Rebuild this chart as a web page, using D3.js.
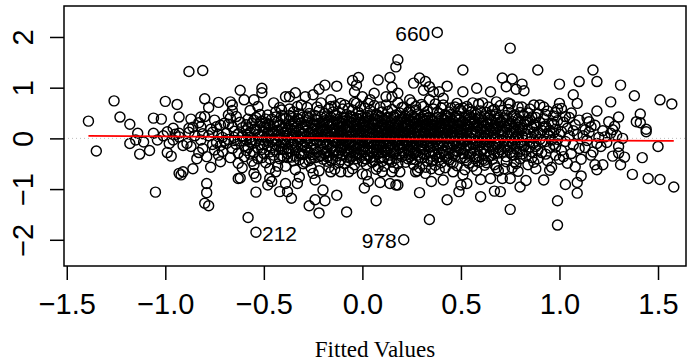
<!DOCTYPE html>
<html>
<head>
<meta charset="utf-8">
<script src="https://cdn.jsdelivr.net/npm/d3@7"></script>
<style>
  html, body { margin: 0; padding: 0; background: #fff; }
  svg { display: block; }
</style>
</head>
<body>
<svg id="chart" width="688" height="364"></svg>
<script>
(function () {
    'use strict';

    const xTicks = [-1.5, -1.0, -0.5, 0, 0.5, 1.0, 1.5];
    const yTicks = [-2, -1, 0, 1, 2];

    // [fitted, residual], grouped by fitted value
    const obs = [
        [-1.39,0.34],[-1.35,-0.25],[-1.26,0.74],[-1.23,0.42],[-1.18,0.28],[-1.18,-0.10],[-1.15,-0.03],[-1.14,0.10],[-1.13,-0.31],[-1.11,-0.07],
        [-1.08,-0.24],[-1.06,0.10],[-1.06,0.40],[-1.05,-1.06],[-1.04,-0.03],[-1.02,0.38],[-1.00,0.73],[-1.01,0.05],
        [-0.99,0.13],[-0.96,0.20],[-0.94,0.67],[-0.93,0.42],[-0.93,0.10],[-0.99,-0.28],[-0.97,-0.35],[-0.98,-0.10],[-0.96,-0.03],[-0.93,-0.69],
        [-0.91,-0.66],[-0.92,-0.72],[-0.93,0.03],[-0.95,0.08],[-0.91,-0.14],
        [-0.88,1.32],[-0.81,1.34],[-0.87,0.38],[-0.88,0.20],[-0.86,0.22],[-0.82,0.42],[-0.80,0.43],[-0.80,0.78],[-0.82,0.23],[-0.87,-0.16],
        [-0.83,-0.28],[-0.81,-0.20],[-0.86,-0.60],[-0.89,-0.10],[-0.82,-0.03],[-0.85,0.05],[-0.84,-0.40],[-0.88,0.12],[-0.81,0.09],[-0.83,0.31],
        [-0.78,0.61],[-0.73,0.71],[-0.74,0.23],[-0.72,0.26],[-0.70,0.30],[-0.79,-0.36],[-0.77,-0.57],[-0.79,-0.89],[-0.79,-1.07],[-0.80,-1.28],
        [-0.78,-1.33],[-0.72,-0.46],[-0.73,-0.33],[-0.75,-0.23],[-0.71,-0.26],[-0.76,0.12],[-0.78,0.05],[-0.74,-0.08],[-0.71,0.02],[-0.77,0.18],
        [-0.72,-0.14],[-0.75,0.36],[-0.70,-0.05],[-0.76,-0.12],[-0.73,0.08],
        [-0.67,0.72],[-0.66,0.66],[-0.62,0.95],[-0.67,0.40],[-0.66,0.23],[-0.63,-0.79],[-0.63,-0.49],[-0.63,-0.29],[-0.62,-0.78],
        [-0.69,0.10],[-0.68,-0.02],[-0.65,0.14],[-0.64,-0.12],[-0.61,0.05],[-0.66,-0.20],[-0.62,0.32],[-0.68,0.46],[-0.60,-0.36],[-0.65,0.02],
        [-0.61,0.21],[-0.67,-0.38],[-0.63,0.09],[-0.64,0.43],[-0.60,-0.15],[-0.69,-0.10],[-0.62,-0.05],[-0.66,0.55],[-0.61,-0.58],[-0.65,-0.04],[-0.68,0.28],
        [-0.60,0.76],[-0.55,0.76],[-0.53,0.63],[-0.51,0.99],[-0.51,0.90],[-0.58,-1.56],[-0.54,-1.85],[-0.55,-0.52],[-0.55,-0.69],[-0.54,-0.76],[-0.54,-1.06],
        [-0.59,0.15],[-0.57,0.02],[-0.56,-0.10],[-0.52,0.24],[-0.58,0.38],[-0.51,-0.22],[-0.53,0.08],[-0.57,-0.31],[-0.59,-0.02],[-0.52,0.47],
        [-0.56,0.30],[-0.50,0.12],[-0.58,-0.18],[-0.54,-0.05],[-0.51,0.34],[-0.57,0.55],[-0.53,-0.40],[-0.59,0.27],[-0.55,0.18],[-0.52,-0.12],
        [-0.56,-0.45],[-0.50,-0.30],[-0.58,0.06],[-0.54,0.41],[-0.51,0.03],[-0.57,-0.07],
        [-0.48,-0.92],[-0.47,-0.79],[-0.46,-0.85],[-0.42,-1.05],[-0.41,0.56],
        [-0.49,0.22],[-0.48,-0.15],[-0.47,0.05],[-0.46,0.38],[-0.45,-0.33],[-0.44,0.14],[-0.43,-0.02],[-0.42,0.61],[-0.49,-0.48],[-0.41,-0.22],
        [-0.45,0.27],[-0.47,-0.60],[-0.44,-0.12],[-0.48,0.46],[-0.43,0.33],[-0.40,-0.07],[-0.46,0.09],[-0.42,-0.40],[-0.49,0.01],[-0.44,0.52],
        [-0.41,0.19],[-0.47,-0.27],[-0.45,0.70],[-0.43,-0.55],[-0.48,0.11],[-0.40,0.40],[-0.46,-0.18],[-0.42,0.03],[-0.44,-0.66],[-0.49,0.31],
        [-0.41,-0.09],[-0.45,-0.02],[-0.47,0.25],[-0.43,0.16],[-0.40,-0.36],[-0.48,-0.04],
        [-0.39,-0.89],[-0.38,-1.05],[-0.36,-1.18],[-0.33,-0.89],[-0.32,-0.76],[-0.39,0.82],[-0.37,0.82],[-0.34,0.90],[-0.33,0.63],
        [-0.39,0.12],[-0.38,-0.20],[-0.37,0.35],[-0.36,0.02],[-0.35,-0.44],[-0.34,0.21],[-0.33,-0.07],[-0.32,0.48],[-0.31,-0.30],[-0.30,0.09],
        [-0.39,-0.55],[-0.37,0.58],[-0.36,-0.12],[-0.35,0.29],[-0.34,-0.35],[-0.32,0.16],[-0.31,0.66],[-0.38,0.04],[-0.36,0.43],[-0.33,-0.18],
        [-0.30,-0.50],[-0.39,0.25],[-0.37,-0.03],[-0.35,0.07],[-0.34,-0.62],[-0.32,-0.02],[-0.31,0.31],[-0.38,-0.38],[-0.36,0.18],[-0.33,0.39],
        [-0.30,-0.14],[-0.37,-0.26],[-0.35,0.52],[-0.32,-0.42],[-0.34,0.11],[-0.31,0.00],[-0.39,-0.11],
        [-0.29,0.82],[-0.25,0.86],[-0.22,0.97],[-0.27,-1.33],[-0.24,-1.21],[-0.24,-0.82],[-0.22,-1.47],[-0.20,-1.02],
        [-0.29,0.14],[-0.28,-0.22],[-0.27,0.40],[-0.26,-0.05],[-0.25,0.27],[-0.24,-0.38],[-0.23,0.08],[-0.22,0.55],[-0.21,-0.15],[-0.20,0.33],
        [-0.29,-0.47],[-0.28,0.61],[-0.27,0.01],[-0.26,-0.58],[-0.25,0.18],[-0.24,0.45],[-0.23,-0.27],[-0.22,-0.03],[-0.21,0.70],[-0.20,-0.41],
        [-0.29,0.26],[-0.28,-0.10],[-0.27,0.49],[-0.26,0.12],[-0.25,-0.32],[-0.24,0.05],[-0.23,0.36],[-0.22,-0.64],[-0.21,0.21],[-0.20,0.02],
        [-0.28,0.35],[-0.26,-0.19],[-0.25,-0.69],[-0.23,0.62],[-0.21,-0.34],[-0.29,-0.06],[-0.27,-0.44],[-0.24,0.25],[-0.22,0.13],[-0.20,-0.22],
        [-0.19,1.05],[-0.19,-1.23],[-0.13,1.03],[-0.13,-1.12],[-0.16,0.76],[-0.16,0.63],[-0.16,-0.66],[-0.11,-0.66],
        [-0.19,0.18],[-0.18,-0.12],[-0.18,0.44],[-0.17,0.02],[-0.17,-0.35],[-0.16,0.27],[-0.15,-0.05],[-0.15,0.52],[-0.14,-0.24],[-0.14,0.10],
        [-0.13,0.38],[-0.12,-0.48],[-0.12,0.06],[-0.11,0.30],[-0.11,-0.17],[-0.10,0.58],[-0.10,-0.02],[-0.19,-0.30],[-0.18,0.31],[-0.17,-0.57],
        [-0.16,0.11],[-0.15,-0.40],[-0.14,0.46],[-0.13,-0.09],[-0.12,0.22],[-0.11,0.69],[-0.10,-0.33],[-0.19,0.03],[-0.18,-0.45],[-0.17,0.59],
        [-0.16,-0.20],[-0.15,0.15],[-0.14,-0.61],[-0.13,0.26],[-0.12,-0.28],[-0.11,0.01],[-0.10,0.41],[-0.18,0.08],[-0.17,0.36],[-0.15,-0.15],
        [-0.14,0.64],[-0.12,-0.03],[-0.11,-0.42],[-0.19,0.49],[-0.13,0.14],[-0.10,-0.11],
        [-0.08,-1.45],[-0.07,-0.66],[-0.05,1.14],[-0.03,1.05],[-0.02,1.20],[-0.04,0.92],[-0.03,0.69],[0.00,0.82],
        [-0.09,0.20],[-0.09,-0.25],[-0.08,0.47],[-0.08,-0.06],[-0.07,0.13],[-0.07,0.34],[-0.06,-0.39],[-0.06,0.04],[-0.05,-0.18],[-0.05,0.56],
        [-0.04,0.25],[-0.04,-0.52],[-0.03,-0.01],[-0.03,0.40],[-0.02,-0.31],[-0.02,0.09],[-0.01,0.63],[-0.01,-0.14],[0.00,0.29],[0.00,-0.45],
        [-0.09,0.66],[-0.08,-0.37],[-0.07,-0.13],[-0.06,0.44],[-0.05,0.08],[-0.04,-0.27],[-0.03,0.18],[-0.02,0.51],[-0.01,-0.04],[0.00,-0.21],
        [-0.09,-0.50],[-0.08,0.24],[-0.07,0.59],[-0.06,-0.08],[-0.05,-0.60],[-0.04,0.36],[-0.03,-0.40],[-0.02,0.00],[-0.01,0.32],[0.00,0.11],
        [-0.09,0.02],[-0.07,-0.29],[-0.06,0.21],[-0.04,0.71],[-0.03,-0.19],[-0.01,0.45],[0.00,-0.70],[-0.08,0.15],[-0.05,0.30],[-0.02,-0.09],
        [0.01,-0.98],[0.03,-0.85],[0.02,-0.72],[0.07,-1.23],[0.09,-0.87],[0.10,-0.66],[0.08,1.15],[0.06,0.89],[0.04,0.76],
        [0.01,0.23],[0.01,-0.16],[0.02,0.41],[0.02,-0.03],[0.03,0.12],[0.03,-0.34],[0.04,0.55],[0.04,-0.08],[0.05,0.30],[0.05,-0.47],
        [0.06,0.06],[0.06,-0.22],[0.07,0.48],[0.07,0.17],[0.08,-0.11],[0.08,0.35],[0.09,-0.38],[0.09,0.02],[0.10,0.27],[0.10,-0.17],
        [0.01,0.60],[0.02,-0.52],[0.03,0.33],[0.04,-0.25],[0.05,0.09],[0.06,0.65],[0.07,-0.04],[0.08,-0.56],[0.09,0.42],[0.10,0.07],
        [0.01,-0.40],[0.02,0.15],[0.03,0.69],[0.04,0.01],[0.05,-0.29],[0.06,0.38],[0.07,-0.61],[0.08,0.21],[0.09,-0.14],[0.10,0.52],
        [0.02,0.26],[0.03,-0.10],[0.05,0.44],[0.06,-0.36],[0.08,0.04],[0.09,0.62],[0.01,0.08],[0.04,0.19],[0.07,-0.27],[0.10,-0.45],
        [0.14,-0.89],[0.17,-0.92],[0.18,-0.92],[0.15,-0.66],[0.19,-0.66],[0.14,1.20],[0.15,1.01],[0.15,0.82],[0.18,1.55],[0.17,1.41],[0.18,0.89],[0.12,0.82],
        [0.11,0.18],[0.11,-0.24],[0.12,0.40],[0.12,-0.02],[0.13,0.09],[0.13,-0.41],[0.14,0.31],[0.14,-0.12],[0.15,0.57],[0.15,0.03],
        [0.16,-0.30],[0.16,0.22],[0.17,0.46],[0.17,-0.07],[0.18,-0.50],[0.18,0.13],[0.19,0.36],[0.19,-0.19],[0.20,0.02],[0.20,0.61],
        [0.11,-0.55],[0.12,0.66],[0.13,0.25],[0.14,-0.33],[0.15,0.14],[0.16,-0.58],[0.17,0.29],[0.18,-0.03],[0.19,0.50],[0.20,-0.36],
        [0.11,0.05],[0.12,-0.15],[0.13,0.53],[0.14,0.08],[0.15,-0.46],[0.16,0.41],[0.17,-0.25],[0.18,0.70],[0.19,0.07],[0.20,0.24],
        [0.11,0.37],[0.13,-0.20],[0.16,0.00],[0.18,0.34],[0.20,-0.11],[0.12,0.20],[0.17,0.10],
        [0.21,-2.00],[0.27,-0.66],[0.29,-1.07],[0.26,1.09],[0.29,1.19],[0.24,0.76],[0.27,0.63],
        [0.21,0.15],[0.21,-0.28],[0.22,0.43],[0.22,-0.06],[0.23,0.26],[0.23,-0.40],[0.24,0.03],[0.24,0.55],[0.25,-0.16],[0.25,0.34],
        [0.26,-0.52],[0.26,0.11],[0.27,0.21],[0.27,-0.09],[0.28,0.48],[0.28,-0.33],[0.29,0.06],[0.29,0.38],[0.30,-0.21],[0.30,0.67],
        [0.21,0.62],[0.22,-0.47],[0.23,0.08],[0.24,-0.23],[0.25,0.70],[0.26,0.29],[0.27,-0.42],[0.28,0.14],[0.29,-0.58],[0.30,0.23],
        [0.21,-0.03],[0.22,0.19],[0.23,0.51],[0.24,-0.36],[0.25,0.00],[0.26,-0.12],[0.27,0.40],[0.28,-0.64],[0.29,0.27],[0.30,-0.05],
        [0.22,0.32],[0.23,-0.15],[0.25,0.45],[0.26,-0.30],[0.28,0.02],[0.29,-0.19],[0.30,0.41],[0.21,0.29],[0.24,0.18],[0.27,0.56],[0.30,-0.38],
        [0.32,-0.69],[0.35,-0.85],[0.34,-1.60],[0.38,2.09],[0.32,1.12],[0.31,0.95],[0.34,1.02],[0.36,0.92],[0.39,0.92],[0.34,0.76],
        [0.31,0.12],[0.31,-0.31],[0.32,0.46],[0.32,-0.04],[0.33,0.25],[0.33,-0.45],[0.34,0.07],[0.34,-0.18],[0.35,0.37],[0.35,0.01],
        [0.36,-0.27],[0.36,0.58],[0.37,0.16],[0.37,-0.53],[0.38,0.30],[0.38,-0.10],[0.39,0.49],[0.39,-0.37],[0.40,0.05],[0.40,0.22],
        [0.31,0.63],[0.32,0.19],[0.33,-0.14],[0.34,0.41],[0.35,-0.60],[0.36,0.09],[0.37,0.68],[0.38,-0.22],[0.39,0.13],[0.40,-0.48],
        [0.31,-0.08],[0.32,-0.57],[0.33,0.53],[0.34,0.28],[0.35,-0.35],[0.36,-0.02],[0.37,0.39],[0.38,0.03],[0.39,-0.62],[0.40,0.60],
        [0.31,0.34],[0.33,0.00],[0.35,0.20],[0.36,-0.43],[0.38,0.52],[0.39,-0.15],[0.40,0.31],[0.32,0.27],[0.37,-0.06],
        [0.41,-0.82],[0.43,-1.21],[0.49,-1.05],[0.50,-0.92],[0.43,1.03],[0.41,0.79],
        [0.41,0.20],[0.41,-0.26],[0.42,0.47],[0.42,0.00],[0.43,-0.40],[0.43,0.14],[0.44,0.33],[0.44,-0.11],[0.45,0.60],[0.45,0.06],
        [0.46,-0.33],[0.46,0.25],[0.47,-0.05],[0.47,0.42],[0.48,-0.54],[0.48,0.17],[0.49,0.36],[0.49,-0.20],[0.50,0.09],[0.50,0.55],
        [0.41,0.66],[0.42,-0.58],[0.43,0.29],[0.44,-0.30],[0.45,0.38],[0.46,-0.66],[0.47,0.03],[0.48,0.69],[0.49,0.23],[0.50,-0.39],
        [0.41,0.04],[0.42,0.35],[0.43,-0.17],[0.44,0.52],[0.45,-0.47],[0.46,0.12],[0.47,-0.24],[0.48,0.44],[0.49,-0.08],[0.50,0.31],
        [0.42,0.18],[0.44,-0.01],[0.45,0.21],[0.47,0.62],[0.48,-0.14],[0.49,0.58],[0.50,-0.23],[0.43,0.40],[0.46,-0.49],
        [0.51,-0.72],[0.53,-0.89],[0.60,-1.15],[0.60,-0.81],[0.51,1.35],[0.51,0.92],[0.58,0.99],
        [0.51,0.16],[0.51,-0.30],[0.52,0.41],[0.52,-0.06],[0.53,0.27],[0.53,-0.44],[0.54,0.04],[0.54,0.58],[0.55,-0.19],[0.55,0.33],
        [0.56,-0.55],[0.56,0.12],[0.57,0.46],[0.57,-0.10],[0.58,0.22],[0.58,-0.36],[0.59,0.68],[0.59,0.02],[0.60,0.30],[0.60,-0.25],
        [0.51,0.60],[0.52,-0.62],[0.53,0.10],[0.54,-0.33],[0.55,0.52],[0.56,-0.02],[0.57,0.24],[0.58,-0.63],[0.59,0.38],[0.60,0.07],
        [0.52,0.20],[0.53,-0.16],[0.54,0.37],[0.55,0.00],[0.56,0.70],[0.57,-0.40],[0.58,0.48],[0.59,-0.13],[0.60,0.54],[0.51,-0.04],
        [0.54,-0.49],[0.56,0.29],[0.59,-0.47],[0.53,0.63],
        [0.65,-0.79],[0.67,-1.04],[0.70,-1.05],[0.65,0.92],
        [0.61,0.18],[0.61,-0.22],[0.62,0.44],[0.62,-0.01],[0.63,0.29],[0.63,-0.48],[0.64,0.09],[0.64,-0.15],[0.65,0.37],[0.65,-0.34],
        [0.66,0.55],[0.66,0.03],[0.67,-0.09],[0.67,0.25],[0.68,-0.58],[0.68,0.48],[0.69,0.13],[0.69,-0.29],[0.70,0.65],[0.70,-0.03],
        [0.61,0.70],[0.62,-0.53],[0.63,0.06],[0.64,0.40],[0.65,-0.06],[0.66,-0.41],[0.67,0.57],[0.68,0.19],[0.69,-0.64],[0.70,0.33],
        [0.61,-0.41],[0.62,0.26],[0.63,-0.26],[0.64,0.62],[0.66,0.20],[0.67,-0.52],[0.68,-0.12],[0.69,0.41],[0.70,0.08],[0.62,0.12],
        [0.65,0.15],[0.68,0.72],[0.63,0.51],[0.69,-0.18],[0.66,-0.23],
        [0.71,-0.79],[0.75,-0.79],[0.75,-1.40],[0.75,1.78],[0.71,1.19],[0.76,1.17],[0.73,1.02],[0.78,0.97],
        [0.71,0.14],[0.71,-0.27],[0.72,0.40],[0.72,-0.05],[0.73,0.22],[0.73,-0.46],[0.74,0.05],[0.74,0.57],[0.75,-0.17],[0.75,0.30],
        [0.76,-0.58],[0.76,0.10],[0.77,0.46],[0.77,-0.33],[0.78,0.02],[0.78,0.28],[0.79,-0.11],[0.79,0.62],[0.80,0.17],[0.80,-0.40],
        [0.71,0.55],[0.72,-0.60],[0.73,0.35],[0.74,-0.23],[0.76,0.43],[0.77,-0.02],[0.78,-0.50],[0.79,0.37],[0.80,-0.08],[0.72,0.24],
        [0.74,0.70],[0.76,-0.32],[0.78,0.13],[0.79,-0.65],[0.80,0.51],[0.73,-0.14],[0.77,0.20],[0.75,0.68],
        [0.80,-0.96],[0.83,-0.83],[0.81,1.07],[0.82,0.94],[0.87,0.66],[0.89,1.35],
        [0.81,0.20],[0.81,-0.31],[0.82,0.45],[0.82,-0.04],[0.83,0.09],[0.83,0.33],[0.84,-0.52],[0.84,0.18],[0.85,-0.17],[0.85,0.58],
        [0.86,0.03],[0.86,-0.38],[0.87,0.27],[0.87,-0.09],[0.88,0.41],[0.88,-0.60],[0.89,0.12],[0.89,-0.24],[0.90,0.66],[0.90,-0.02],
        [0.81,0.62],[0.83,-0.35],[0.84,0.50],[0.86,0.22],[0.87,-0.47],[0.88,0.06],[0.90,0.32],[0.82,-0.15],[0.85,0.36],[0.89,0.48],
        [0.92,-0.82],[0.99,-1.23],[0.99,-1.71],[1.00,1.07],[1.00,0.69],[0.98,0.51],
        [0.91,0.16],[0.91,-0.28],[0.92,0.39],[0.93,-0.06],[0.93,0.24],[0.94,-0.44],[0.94,0.54],[0.95,0.04],[0.95,-0.19],[0.96,0.30],
        [0.96,-0.57],[0.97,0.11],[0.97,0.44],[0.98,-0.33],[0.98,0.18],[0.99,-0.02],[0.99,0.35],[1.00,-0.41],[0.92,0.62],[0.94,0.09],
        [0.95,-0.63],[0.97,-0.12],[0.99,0.58],[0.93,0.47],
        [1.03,-0.91],[1.09,-0.87],[1.09,-1.08],[1.01,0.59],[1.03,0.43],[1.07,0.86],[1.09,0.69],[1.10,1.12],
        [1.01,0.13],[1.01,-0.24],[1.02,0.32],[1.03,-0.06],[1.04,0.20],[1.04,-0.49],[1.05,0.05],[1.05,0.41],[1.06,-0.30],[1.07,0.15],
        [1.07,-0.13],[1.08,0.27],[1.08,-0.56],[1.09,0.08],[1.10,-0.20],[1.10,0.36],[1.02,-0.36],[1.06,0.50],
        [1.11,-0.74],[1.11,-0.41],[1.16,-0.33],[1.18,-0.52],[1.19,-0.62],[1.19,-0.10],[1.17,1.35],[1.19,1.12],[1.19,0.54],[1.15,0.33],
        [1.16,0.23],[1.13,0.17],[1.12,0.05],[1.13,-0.18],[1.14,0.40],[1.14,-0.04],[1.15,0.12],[1.17,-0.27],[1.18,0.26],[1.20,0.02],
        [1.22,-0.52],[1.21,-0.16],[1.23,0.03],[1.26,0.10],[1.26,0.72],[1.28,0.24],[1.27,0.17],[1.22,0.15],[1.24,-0.08],[1.25,0.33],
        [1.27,-0.35],[1.29,0.06],
        [1.32,0.00],[1.30,-0.16],[1.30,-0.29],[1.31,-0.52],[1.33,-0.37],[1.37,-0.71],[1.38,0.84],[1.31,1.05],[1.30,0.42],[1.39,0.33],
        [1.42,-0.38],[1.45,-0.79],[1.50,-0.16],[1.44,0.13],[1.41,0.48],[1.41,0.31],[1.44,0.18],
        [1.51,-0.81],[1.58,-0.96],[1.51,0.76],[1.57,0.68]
    ];

    // the solid black middle of the cloud: extra points close to zero
    const obsDense = [
        [-0.59,-0.24],[-0.58,0.21],[-0.57,0.12],[-0.56,-0.03],[-0.55,0.36],[-0.55,-0.28],[-0.54,0.16],[-0.53,-0.19],[-0.52,0.04],[-0.51,-0.38],[-0.50,0.23],[-0.52,0.31],
        [-0.50,-0.12],[-0.49,0.38],[-0.48,0.27],[-0.47,-0.40],[-0.46,-0.06],[-0.45,0.13],[-0.44,0.42],[-0.44,-0.23],[-0.43,0.06],[-0.42,-0.15],
        [-0.42,0.26],[-0.41,0.45],[-0.41,-0.34],[-0.40,0.10],[-0.47,0.17],
        [-0.40,-0.21],[-0.39,0.39],[-0.39,-0.03],[-0.38,0.19],[-0.38,-0.30],[-0.37,0.10],[-0.37,0.45],[-0.36,-0.37],[-0.36,0.28],[-0.35,-0.09],
        [-0.35,0.14],[-0.34,0.34],[-0.34,-0.23],[-0.33,0.03],[-0.33,0.24],[-0.32,-0.29],[-0.32,0.37],[-0.31,0.08],[-0.31,-0.16],[-0.30,0.22],
        [-0.30,0.42],[-0.30,-0.32],[-0.29,0.04],[-0.29,-0.18],[-0.28,0.22],[-0.28,0.44],[-0.27,-0.28],[-0.27,0.11],[-0.26,0.31],[-0.26,-0.40],
        [-0.25,0.06],[-0.25,-0.12],[-0.24,0.38],[-0.24,-0.21],[-0.23,-0.06],[-0.23,0.19],[-0.22,0.30],[-0.22,-0.36],[-0.21,0.05],[-0.21,0.42],
        [-0.20,-0.09],[-0.20,0.16],
        [-0.20,0.27],[-0.19,-0.07],[-0.19,0.35],[-0.18,-0.25],[-0.18,0.15],[-0.17,0.24],[-0.17,-0.14],[-0.16,0.42],[-0.16,-0.43],[-0.16,0.04],
        [-0.15,0.32],[-0.15,-0.27],[-0.14,0.19],[-0.14,-0.06],[-0.13,-0.35],[-0.13,0.45],[-0.12,0.10],[-0.12,0.33],[-0.11,-0.23],[-0.11,0.14],
        [-0.10,-0.18],[-0.10,0.24],[-0.14,0.02],[-0.18,-0.36],
        [-0.10,0.06],[-0.10,0.34],[-0.09,-0.12],[-0.09,0.40],[-0.08,0.07],[-0.08,-0.24],[-0.07,0.23],[-0.07,-0.44],[-0.06,0.12],[-0.06,0.33],
        [-0.06,-0.26],[-0.05,-0.04],[-0.05,0.42],[-0.04,0.14],[-0.04,-0.14],[-0.03,0.29],[-0.03,-0.30],[-0.02,0.20],[-0.02,-0.20],[-0.02,0.38],
        [-0.01,0.06],[-0.01,-0.33],[0.00,0.19],[0.00,-0.06],[-0.08,0.36],[-0.05,-0.35],
        [0.00,0.40],[0.01,-0.06],[0.01,0.33],[0.01,-0.27],[0.02,0.08],[0.02,-0.41],[0.03,0.22],[0.03,0.45],[0.03,-0.19],[0.04,0.10],
        [0.04,0.34],[0.04,-0.38],[0.05,-0.08],[0.05,0.19],[0.06,0.28],[0.06,-0.12],[0.06,-0.44],[0.07,0.05],[0.07,0.37],[0.07,-0.18],
        [0.08,0.13],[0.08,-0.30],[0.08,0.45],[0.09,-0.05],[0.09,0.24],[0.10,-0.28],[0.10,0.15],[0.10,0.40],
        [0.11,-0.10],[0.11,0.27],[0.11,-0.38],[0.12,0.09],[0.12,0.31],[0.12,-0.26],[0.13,-0.05],[0.13,0.17],[0.13,0.42],[0.14,-0.19],
        [0.14,0.21],[0.14,-0.43],[0.15,0.07],[0.15,0.35],[0.15,-0.12],[0.16,0.13],[0.16,-0.22],[0.16,0.44],[0.17,0.02],[0.17,-0.39],
        [0.17,0.20],[0.18,-0.12],[0.18,0.25],[0.19,-0.01],[0.19,0.16],[0.19,-0.30],[0.20,0.11],[0.20,0.38],
        [0.20,-0.24],[0.21,0.07],[0.21,0.40],[0.21,-0.13],[0.22,-0.33],[0.22,0.11],[0.22,0.27],[0.23,-0.04],[0.23,0.38],[0.23,-0.25],
        [0.24,0.10],[0.24,-0.11],[0.24,0.33],[0.25,-0.41],[0.25,0.23],[0.25,-0.06],[0.26,0.06],[0.26,0.42],[0.26,-0.20],[0.27,0.29],
        [0.27,-0.28],[0.27,0.03],[0.28,0.22],[0.28,-0.11],[0.28,0.35],[0.29,-0.37],[0.29,0.15],[0.30,0.10],
        [0.30,-0.13],[0.30,0.33],[0.31,0.04],[0.31,-0.22],[0.31,0.44],[0.32,0.10],[0.32,-0.31],[0.32,0.36],[0.33,-0.07],[0.33,0.16],
        [0.33,0.40],[0.34,-0.27],[0.34,0.14],[0.34,-0.05],[0.35,0.27],[0.35,-0.45],[0.35,0.09],[0.36,0.33],[0.36,-0.15],[0.36,0.17],
        [0.37,-0.31],[0.37,0.05],[0.37,0.26],[0.38,-0.02],[0.38,0.41],[0.38,-0.38],[0.39,0.21],[0.39,0.04],
        [0.40,-0.09],[0.40,0.40],[0.40,-0.30],[0.41,0.12],[0.41,0.30],[0.41,-0.14],[0.42,-0.36],[0.42,0.09],[0.42,0.27],[0.43,-0.07],
        [0.43,0.44],[0.43,0.05],[0.44,0.16],[0.44,-0.42],[0.44,0.25],[0.45,-0.19],[0.45,0.12],[0.45,0.47],[0.46,-0.11],[0.46,0.34],
        [0.46,0.04],[0.47,-0.35],[0.47,0.18],[0.48,0.07],[0.48,-0.26],[0.49,0.13],[0.49,0.43],[0.50,-0.01],
        [0.50,0.19],[0.50,-0.13],[0.51,0.33],[0.51,0.06],[0.52,-0.22],[0.52,0.29],[0.52,-0.38],[0.53,0.17],[0.53,-0.03],[0.54,0.45],
        [0.54,-0.14],[0.54,0.23],[0.55,-0.30],[0.55,0.12],[0.56,0.38],[0.56,-0.12],[0.57,0.07],[0.57,-0.24],[0.57,0.33],[0.58,-0.04],
        [0.58,0.13],[0.59,0.26],[0.59,-0.34],[0.60,-0.08],[0.60,0.17],[0.55,0.42],
        [0.60,0.42],[0.61,-0.06],[0.61,0.31],[0.62,-0.31],[0.62,0.06],[0.63,0.18],[0.63,-0.13],[0.64,0.28],[0.64,-0.36],[0.65,0.02],
        [0.65,0.46],[0.66,-0.15],[0.66,0.33],[0.67,0.10],[0.67,-0.30],[0.68,0.36],[0.68,0.01],[0.69,-0.07],[0.69,0.24],[0.70,-0.22],
        [0.70,0.17],[0.64,-0.02],[0.67,0.44],[0.62,-0.43],
        [0.71,0.03],[0.71,0.32],[0.72,-0.18],[0.72,0.12],[0.73,-0.36],[0.73,0.45],[0.74,-0.06],[0.74,0.25],[0.75,0.06],[0.75,-0.28],
        [0.76,0.33],[0.76,-0.10],[0.77,0.13],[0.77,-0.46],[0.78,0.40],[0.78,-0.21],[0.79,0.08],[0.79,0.22],[0.80,-0.26],[0.80,0.32],
        [0.81,0.05],[0.81,-0.14],[0.82,0.28],[0.83,-0.23],[0.84,0.03],[0.84,0.35],[0.85,-0.07],[0.86,0.42],[0.86,-0.27],[0.87,0.12],
        [0.88,-0.16],[0.88,0.26],[0.89,-0.40],[0.90,0.10],
        [0.91,-0.07],[0.92,0.23],[0.93,-0.31],[0.95,0.16],[0.96,-0.03],[0.97,0.28],[0.98,-0.17],[1.00,0.08]
    ];

    // red smoother through the residuals
    const smoothFitted = [-1.39, -1.0, -0.6, -0.2, 0.2, 0.6, 1.0, 1.58];
    const smoothResid = [0.05, 0.04, 0.025, 0.005, -0.015, -0.03, -0.04, -0.05];

    // labelled observations
    const labelIds = ['660', '212', '978'];
    const labelFitted = [0.38, -0.54, 0.21];
    const labelResid = [2.09, -1.85, -2.00];
    const labelSide = ['left', 'right', 'left'];

    const box = { left: 64, top: 6, right: 686, bottom: 266 };

    const x = d3.scaleLinear().domain([-1.514, 1.642]).range([box.left, box.right]);
    const y = d3.scaleLinear().domain([-2.517, 2.611]).range([box.bottom, box.top]);

    const minus = (v, digits) => (v < 0 ? '\u2212' : '') + Math.abs(v).toFixed(digits);

    const svg = d3.select('#chart');
    const sans = '"Liberation Sans", Arial, sans-serif';

    // points
    svg.append('g')
        .selectAll('circle')
        .data(obs.concat(obsDense))
        .join('circle')
        .attr('cx', (d) => x(d[0]))
        .attr('cy', (d) => y(d[1]))
        .attr('r', 5)
        .attr('fill', 'none')
        .attr('stroke', '#000')
        .attr('stroke-width', 1.45);

    // dotted zero line
    svg.append('line')
        .attr('x1', box.left).attr('x2', box.right)
        .attr('y1', y(0)).attr('y2', y(0))
        .attr('stroke', '#bebebe')
        .attr('stroke-width', 1)
        .attr('stroke-dasharray', '1,3');

    // smoother
    const line = d3.line()
        .x((d, i) => x(smoothFitted[i]))
        .y((d) => y(d))
        .curve(d3.curveMonotoneX);
    svg.append('path')
        .datum(smoothResid)
        .attr('d', line)
        .attr('fill', 'none')
        .attr('stroke', '#ff0000')
        .attr('stroke-width', 1.7);

    // point labels
    labelIds.forEach((id, i) => {
        const left = labelSide[i] === 'left';
        svg.append('text')
            .attr('x', x(labelFitted[i]) + (left ? -7 : 6))
            .attr('y', y(labelResid[i]) + 8.5)
            .attr('text-anchor', left ? 'end' : 'start')
            .attr('font-family', sans)
            .attr('font-size', 21)
            .attr('fill', '#000')
            .text(id);
    });

    // frame
    svg.append('rect')
        .attr('x', box.left).attr('y', box.top)
        .attr('width', box.right - box.left)
        .attr('height', box.bottom - box.top)
        .attr('fill', 'none')
        .attr('stroke', '#000')
        .attr('stroke-width', 1.5);

    // x axis
    const gx = svg.append('g')
        .attr('transform', `translate(0,${box.bottom})`)
        .call(d3.axisBottom(x).tickValues(xTicks).tickSize(14).tickFormat((v) => minus(v, 1)));
    gx.select('.domain').remove();
    gx.selectAll('line').attr('stroke', '#000').attr('stroke-width', 1.5);
    gx.selectAll('text')
        .attr('y', 27)
        .attr('fill', '#000')
        .attr('font-family', sans)
        .attr('font-size', 29);

    // y axis, labels turned like R's default
    const gy = svg.append('g')
        .attr('transform', `translate(${box.left},0)`)
        .call(d3.axisLeft(y).tickValues(yTicks).tickSize(14).tickFormat((v) => minus(v, 0)));
    gy.select('.domain').remove();
    gy.selectAll('line').attr('stroke', '#000').attr('stroke-width', 1.5);
    gy.selectAll('text')
        .attr('x', null)
        .attr('dy', null)
        .attr('text-anchor', 'middle')
        .attr('transform', 'translate(-31,0) rotate(-90)')
        .attr('fill', '#000')
        .attr('font-family', sans)
        .attr('font-size', 29);

    svg.append('text')
        .attr('x', (box.left + box.right) / 2)
        .attr('y', 357)
        .attr('text-anchor', 'middle')
        .attr('font-family', '"Liberation Serif", "Times New Roman", serif')
        .attr('font-size', 23)
        .attr('fill', '#000')
        .text('Fitted Values');
})();
</script>
</body>
</html>
